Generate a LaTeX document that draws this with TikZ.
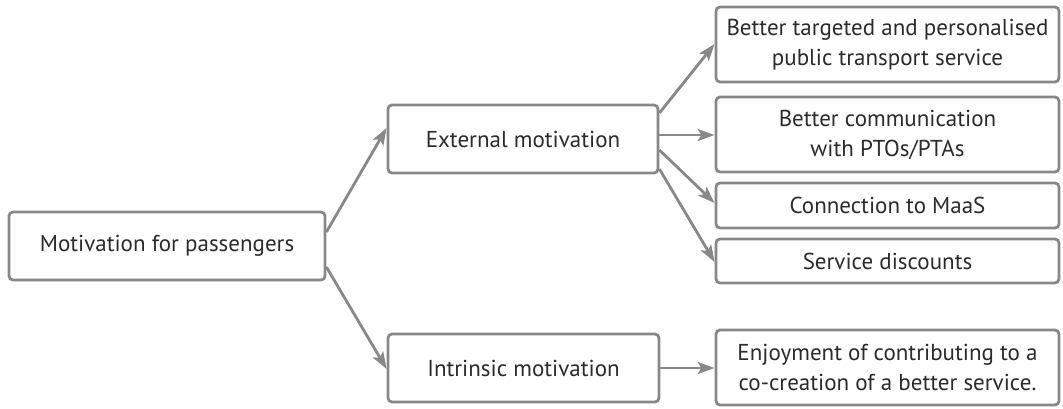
\documentclass[tikz,border=0pt]{standalone}
\usepackage{fontspec}
\setmainfont{PT Sans}
\usetikzlibrary{arrows.meta}
\definecolor{boxgray}{HTML}{888888}
\definecolor{txt}{HTML}{2B2B2B}
\tikzset{
  x=1pt, y=-1pt,
  mbox/.style={draw=boxgray, line width=2.8pt, rounded corners=4pt, fill=white, text=txt, align=center, inner sep=0pt, font=\fontsize{23}{30}\selectfont},
  conn/.style={draw=boxgray, line width=2.8pt, -{Stealth[length=17pt,width=12pt,inset=4pt]}}
}
\begin{document}
\begin{tikzpicture}
\useasboundingbox (0,0) rectangle (1063,408);
% boxes: corners given in pixel coordinates
\newcommand{\mkbox}[6]{\node[mbox, minimum width=#4-#2, minimum height=#5-#3] (#1) at ({(#2+#4)/2},{(#3+#5)/2}) {#6};}
\mkbox{root}{9}{212}{325}{280}{Motivation for passengers}
\mkbox{ext}{388}{105}{658}{173}{External motivation}
\mkbox{intr}{388}{334}{659}{402}{Intrinsic motivation}
\mkbox{b1}{716}{7}{1059}{82}{Better targeted and personalised\\public transport service}
\mkbox{b2}{716}{97}{1059}{172}{Better communication\\with PTOs/PTAs}
\mkbox{b3}{716}{183}{1059}{228}{Connection to MaaS}
\mkbox{b4}{716}{239}{1059}{283}{Service discounts}
\mkbox{b5}{716}{330}{1059}{405}{Enjoyment of contributing to a\\co-creation of a better service.}
% connectors
\draw[conn] (root.east |- 0,232) -- (ext.west |- 0,128);
\draw[conn] (root.east |- 0,267) -- (intr.west |- 0,369);
\draw[conn] (ext.east |- 0,113) -- (b1.west |- 0,44);
\draw[conn] (ext.east |- 0,135) -- (b2.west |- 0,135);
\draw[conn] (ext.east |- 0,150) -- (b3.west |- 0,203);
\draw[conn] (ext.east |- 0,169) -- (b4.west |- 0,262);
\draw[conn] (intr.east |- 0,368) -- (b5.west |- 0,368);
\end{tikzpicture}
\end{document}
